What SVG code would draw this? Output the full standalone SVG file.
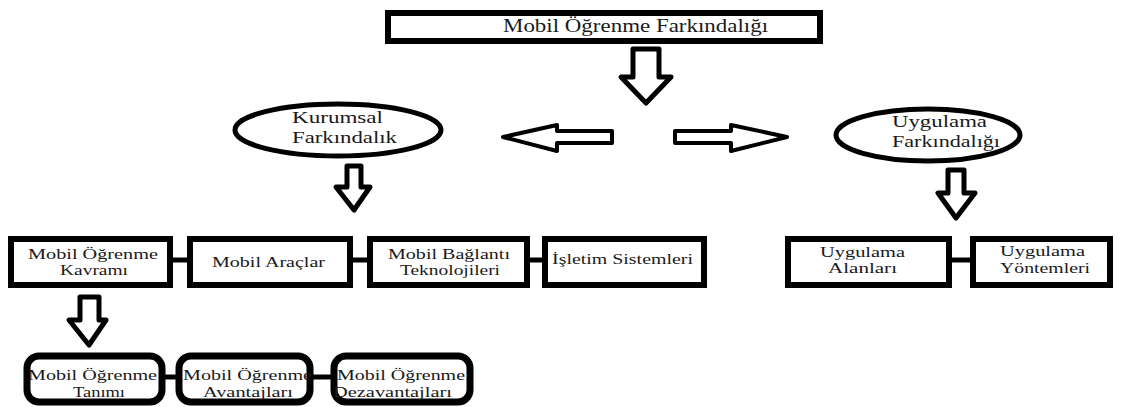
<svg xmlns="http://www.w3.org/2000/svg" width="1134" height="407" viewBox="0 0 1134 407">
<style>
.box{fill:#fff;stroke:#000;stroke-width:6}
.rbox{fill:#fff;stroke:#000;stroke-width:7}
.ell{fill:#fff;stroke:#000;stroke-width:5}
.arr{fill:#fff;stroke:#000;stroke-width:5;stroke-linejoin:round}
.con{stroke:#000;stroke-width:5;fill:none}
text{font-family:"Liberation Serif","Times New Roman",serif;fill:#1a1a1a}
.t15{font-size:15px}
.t16{font-size:16px}
.t18{font-size:18px}
</style>
<rect width="1134" height="407" fill="#fff"/>
<g id="connectors">
<line class="con" x1="168" y1="260" x2="192" y2="260"/>
<line class="con" x1="348" y1="260" x2="372" y2="260"/>
<line class="con" x1="525" y1="260" x2="547" y2="260"/>
<line class="con" x1="947" y1="260" x2="975" y2="260"/>
<line class="con" x1="160" y1="377" x2="181" y2="377"/>
<line class="con" x1="308" y1="377" x2="336" y2="377"/>
<path class="arr" d="M633,49 L659,49 L659,77 L671,77 L646,103 L621,77 L633,77 Z"/>
<path class="arr" d="M503,137 L557,125 L557,131 L612,131 L612,143 L557,143 L557,151 Z" style="stroke-width:4"/>
<path class="arr" d="M675,131 L731,131 L731,125 L787,137 L731,151 L731,143 L675,143 Z" style="stroke-width:4"/>
<path class="arr" d="M347,166 L361,166 L361,187 L370,187 L354,210 L336,187 L347,187 Z"/>
<path class="arr" d="M948,170 L964,170 L964,193 L975,193 L956,218 L938,193 L948,193 Z"/>
<path class="arr" d="M80,297 L99,297 L99,320 L106,320 L89,345 L69,320 L80,320 Z"/>
</g>
<g id="n-top">
<rect class="box" x="388" y="13" width="432" height="28"/>
<text class="t18" x="503" y="32" textLength="265" lengthAdjust="spacingAndGlyphs">Mobil Öğrenme Farkındalığı</text>
</g>
<g id="n-kurumsal">
<ellipse class="ell" cx="338" cy="130" rx="103" ry="26"/>
<text class="t16" x="292" y="123" textLength="91" lengthAdjust="spacingAndGlyphs">Kurumsal</text>
<text class="t16" x="292" y="143" textLength="105" lengthAdjust="spacingAndGlyphs">Farkındalık</text>
</g>
<g id="n-uygulama">
<ellipse class="ell" cx="928" cy="135" rx="92" ry="26"/>
<text class="t16" x="892" y="127" textLength="95" lengthAdjust="spacingAndGlyphs">Uygulama</text>
<text class="t16" x="892" y="147" textLength="108" lengthAdjust="spacingAndGlyphs">Farkındalığı</text>
</g>
<g id="n-kavrami">
<rect class="box" x="11" y="239" width="159" height="46"/>
<text class="t15" x="28" y="259" textLength="130" lengthAdjust="spacingAndGlyphs">Mobil Öğrenme</text>
<text class="t15" x="60" y="275" textLength="68" lengthAdjust="spacingAndGlyphs">Kavramı</text>
</g>
<g id="n-araclar">
<rect class="box" x="190" y="239" width="160" height="46"/>
<text class="t15" x="212" y="267" textLength="113" lengthAdjust="spacingAndGlyphs">Mobil Araçlar</text>
</g>
<g id="n-baglanti">
<rect class="box" x="370" y="239" width="157" height="46"/>
<text class="t15" x="388" y="259" textLength="122" lengthAdjust="spacingAndGlyphs">Mobil Bağlantı</text>
<text class="t15" x="400" y="275" textLength="100" lengthAdjust="spacingAndGlyphs">Teknolojileri</text>
</g>
<g id="n-isletim">
<rect class="box" x="545" y="239" width="159" height="46"/>
<text class="t15" x="552" y="264" textLength="141" lengthAdjust="spacingAndGlyphs">İşletim Sistemleri</text>
</g>
<g id="n-alanlari">
<rect class="box" x="788" y="239" width="161" height="46"/>
<text class="t15" x="820" y="257" textLength="85" lengthAdjust="spacingAndGlyphs">Uygulama</text>
<text class="t15" x="828" y="273" textLength="69" lengthAdjust="spacingAndGlyphs">Alanları</text>
</g>
<g id="n-yontemleri">
<rect class="box" x="973" y="239" width="137" height="46"/>
<text class="t15" x="1000" y="256" textLength="85" lengthAdjust="spacingAndGlyphs">Uygulama</text>
<text class="t15" x="1000" y="273" textLength="90" lengthAdjust="spacingAndGlyphs">Yöntemleri</text>
</g>
<g id="n-tanimi">
<rect class="rbox" x="27" y="356" width="135" height="46" rx="12"/>
<text class="t15" x="28" y="380" textLength="129" lengthAdjust="spacingAndGlyphs">Mobil Öğrenme</text>
<text class="t15" x="73" y="397" textLength="52" lengthAdjust="spacingAndGlyphs">Tanımı</text>
</g>
<g id="n-avantajlari">
<rect class="rbox" x="179" y="356" width="131" height="46" rx="12"/>
<text class="t15" x="183" y="380" textLength="129" lengthAdjust="spacingAndGlyphs">Mobil Öğrenme</text>
<text class="t15" x="203" y="397" textLength="90" lengthAdjust="spacingAndGlyphs">Avantajları</text>
</g>
<g id="n-dezavantajlari">
<rect class="rbox" x="334" y="356" width="136" height="46" rx="12"/>
<text class="t15" x="337" y="380" textLength="128" lengthAdjust="spacingAndGlyphs">Mobil Öğrenme</text>
<text class="t15" x="333" y="397" textLength="119" lengthAdjust="spacingAndGlyphs">Dezavantajları</text>
</g>
</svg>
